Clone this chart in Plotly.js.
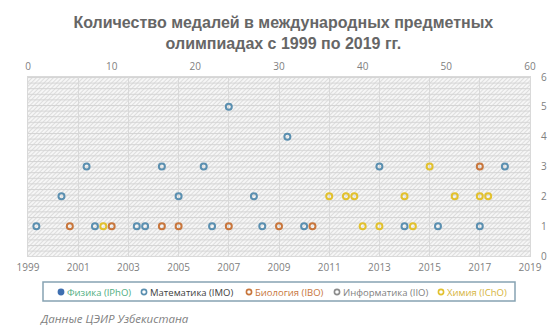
<!DOCTYPE html>
<html><head><meta charset="utf-8">
<script src="https://cdn.plot.ly/plotly-3.0.1.min.js"></script>
<style>html,body{margin:0;padding:0;background:#fff}#chart{width:560px;height:329px}</style>
</head><body><div id="chart"></div>
<script>
// ---- data ----
const yearLabels = ['1999','2001','2003','2005','2007','2009','2011','2013','2015','2017','2019'];
const topTickVals = [0,10,20,30,40,50,60];
const yTickVals = [0,1,2,3,4,5,6];

const seriesNames = ['Физика (IPhO)','Математика (IMO)','Биология (IBO)','Информатика (IIO)','Химия (IChO)'];

const physX = [];
const physY = [];
const mathX = [1,4,7,8,13,14,16,18,21,22,24,27,28,31,33,42,45,49,54,57];
const mathY = [1,2,3,1,1,1,3,2,3,1,5,2,1,4,1,3,1,1,1,3];
const bioX  = [5,10,16,18,24,30,34,54];
const bioY  = [1,1,1,1,1,1,1,3];
const infoX = [];
const infoY = [];
const chemX = [9,36,38,39,40,42,45,46,48,51,54,55];
const chemY = [1,2,2,2,1,1,2,1,3,2,2,2];

// ---- styles ----
const markerColors = ['#3f6fb0','#5a8fb0','#c8763c','#8c8c8c','#e2c12e'];
const textColors   = ['#4fae82','#404040','#c8763c','#7f7f7f','#d6b43a'];
const legendMarkerPx = [61,144,249,337,441];

const W=560,H=329,L=28,R=30,T=77,B=73;
const pw=W-L-R, ph=H-T-B;
const px2x = p => (p-L)/pw;
const py2y = p => (H-B-p)/ph;

const yearTickVals = yearLabels.map(y => (parseInt(y,10)-1999)*3);

function mk(x,y,i,xa){
  return {type:'scatter',mode:'markers',x:x,y:y,name:seriesNames[i],xaxis:xa,yaxis:'y',
    showlegend:false,hoverinfo:'skip',cliponaxis:false,
    marker:{symbol:i===0?'circle':'circle-open',size:6,color:markerColors[i],line:{width:2,color:markerColors[i]}}};
}
const traces = [
  mk(physX,physY,0,'x2'),
  mk(mathX,mathY,1,'x'),
  mk(bioX,bioY,2,'x2'),
  mk(infoX,infoY,3,'x2'),
  mk(chemX,chemY,4,'x2')
];

const svg = "<svg xmlns='http://www.w3.org/2000/svg' width='"+pw+"' height='"+ph+"'>"+
 "<defs><pattern id='d' width='3' height='3' patternUnits='userSpaceOnUse' patternTransform='rotate(45)'>"+
 "<rect width='3' height='3' fill='#f6f6f6'/><rect width='1' height='3' fill='#dddddd'/></pattern>"+
 "<pattern id='h' width='"+pw+"' height='5.6' patternUnits='userSpaceOnUse'><rect width='"+pw+"' height='1' fill='#d4d4d4'/></pattern></defs>"+
 "<rect width='"+pw+"' height='"+ph+"' fill='url(#d)'/><rect width='"+pw+"' height='"+ph+"' fill='url(#h)'/></svg>";

const tickFont = {family:'Open Sans, Noto Sans, sans-serif',size:10,color:'#808080'};

const annotations = [];
const shapes = [];
// legend box
shapes.push({type:'rect',xref:'paper',yref:'paper',x0:px2x(43),x1:px2x(515),y0:py2y(301),y1:py2y(282),
  line:{color:'#86a3b2',width:1.5},fillcolor:'rgba(0,0,0,0)',layer:'above'});
for(let i=0;i<seriesNames.length;i++){
  const cx = px2x(legendMarkerPx[i]), cy = py2y(292);
  shapes.push({type:'circle',xref:'paper',yref:'paper',xsizemode:'pixel',ysizemode:'pixel',
    xanchor:cx,yanchor:cy,x0:-2.6,x1:2.6,y0:-2.6,y1:2.6,
    line:{color:markerColors[i],width:1.6},fillcolor:i===0?markerColors[i]:'rgba(0,0,0,0)'});
  annotations.push({xref:'paper',yref:'paper',x:px2x(legendMarkerPx[i]+4),y:cy,xanchor:'left',yanchor:'middle',
    showarrow:false,text:seriesNames[i],font:{family:'Open Sans, Noto Sans, sans-serif',size:9.5,color:textColors[i]}});
}
annotations.push({xref:'paper',yref:'paper',x:px2x(38),y:py2y(318),xanchor:'left',yanchor:'middle',showarrow:false,
  text:'<i>Данные ЦЭИР Узбекистана</i>',font:{family:'Open Sans, Noto Sans, sans-serif',size:11.5,color:'#7f7f7f'}});

const layout = {
  width:W,height:H,margin:{l:L,r:R,t:T,b:B,pad:0},
  paper_bgcolor:'#ffffff',plot_bgcolor:'#f5f5f5',
  title:{text:'Количество медалей в международных предметных<br>олимпиадах с 1999 по 2019 гг.',
    xref:'container',x:0.506,xanchor:'center',yref:'container',y:1-28/H,yanchor:'top',
    font:{family:'Liberation Sans, Arial, sans-serif',size:16,color:'#666666',weight:'bold'}},
  xaxis:{range:[0,60],tickmode:'array',tickvals:yearTickVals,ticktext:yearLabels,showgrid:true,gridcolor:'#d9d9d9',gridwidth:1,
    zeroline:false,showline:true,linecolor:'#d9d9d9',linewidth:1,mirror:true,ticks:'',tickfont:tickFont,fixedrange:true,ticklabelstandoff:2},
  xaxis2:{range:[0,60],overlaying:'x',side:'top',tickmode:'array',tickvals:topTickVals,showgrid:false,zeroline:false,
    showline:false,ticks:'',tickfont:tickFont,fixedrange:true,ticklabelstandoff:4},
  yaxis:{range:[0,6],side:'right',tickmode:'array',tickvals:yTickVals,showgrid:false,zeroline:false,showline:true,
    linecolor:'#d9d9d9',linewidth:1,mirror:true,ticks:'',tickfont:tickFont,fixedrange:true,ticklabelstandoff:8},
  images:[{source:'data:image/svg+xml;charset=utf-8,'+encodeURIComponent(svg),xref:'paper',yref:'paper',
    x:0,y:1,sizex:1,sizey:1,xanchor:'left',yanchor:'top',sizing:'stretch',layer:'below'}],
  shapes:shapes,annotations:annotations,showlegend:false
};
Plotly.newPlot('chart',traces,layout,{displayModeBar:false,staticPlot:true});
</script></body></html>
